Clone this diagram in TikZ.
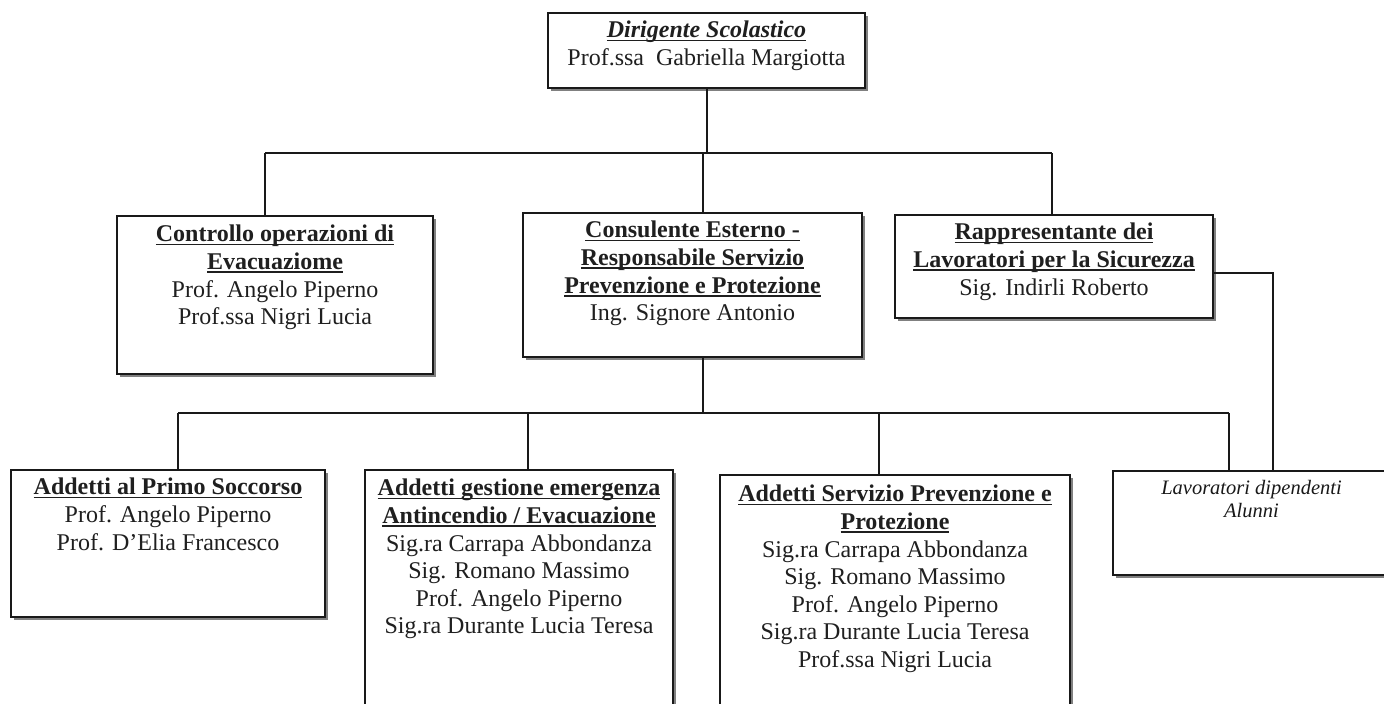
\documentclass[tikz,border=0pt]{standalone}
\usepackage{fontspec}
\setmainfont{Liberation Serif}
\usetikzlibrary{shadows}
\newsavebox\ulbox
\newcommand\ulx[1]{\sbox\ulbox{#1}\rlap{\rule[-3.5pt]{\wd\ulbox}{1.8pt}}\usebox\ulbox}
\tikzset{
  box/.style={draw=black!90, line width=2pt, fill=white, inner sep=0pt, outer sep=0pt,
    anchor=north west, drop shadow={shadow xshift=3pt, shadow yshift=-3pt, fill=black!50, opacity=1}},
  txt/.style={anchor=north, align=center, inner sep=0pt, font=\fontsize{24}{27.6}\selectfont, text=black!88},
  smalltxt/.style={anchor=north, align=center, inner sep=0pt, font=\fontsize{20.5}{23}\selectfont\itshape, text=black!90},
  conn/.style={line width=2pt, draw=black!90}
}
\begin{document}
\begin{tikzpicture}[x=1pt,y=-1pt]
\clip (0,0) rectangle (1384,704);
\fill[white] (0,0) rectangle (1384,704);
% bus coordinates
\coordinate (t1) at (265,153);
\coordinate (tc) at (703,153);
\coordinate (t2) at (1052,153);
\coordinate (b0) at (703,413);
\coordinate (b1) at (178,413);
\coordinate (b2) at (528,413);
\coordinate (b3) at (879,413);
\coordinate (b4) at (1229,413);
\coordinate (r1) at (1273,273);
% boxes
\node[box, minimum width=317pt, minimum height=75pt] (dir) at (548,13) {};
\node[box, minimum width=316pt, minimum height=158pt] (ctrl) at (117,216) {};
\node[box, minimum width=339pt, minimum height=144pt] (cons) at (523,213) {};
\node[box, minimum width=318pt, minimum height=103pt] (rapp) at (895,215) {};
\node[box, minimum width=314pt, minimum height=147pt] (primo) at (11,470) {};
\node[box, minimum width=308pt, minimum height=290pt] (gest) at (365,470) {};
\node[box, minimum width=350pt, minimum height=290pt] (serv) at (720,475) {};
\node[box, minimum width=277pt, minimum height=104pt] (lav) at (1113,471) {};
% connectors
\draw[conn] (dir.south) -- (dir.south |- t1);
\draw[conn] (t1) -- (t2);
\draw[conn] (t1) -- (t1 |- ctrl.north);
\draw[conn] (tc) -- (tc |- cons.north);
\draw[conn] (t2) -- (t2 |- rapp.north);
\draw[conn] (b0 |- cons.south) -- (b0);
\draw[conn] (b1) -- (b4);
\draw[conn] (b1) -- (b1 |- primo.north);
\draw[conn] (b2) -- (b2 |- gest.north);
\draw[conn] (b3) -- (b3 |- serv.north);
\draw[conn] (b4) -- (b4 |- lav.north);
\draw[conn] (rapp.east |- r1) -- (r1) -- (r1 |- lav.north);
% texts
\node[txt, yshift=-8pt] (dirT) at (dir.north) {\ulx{\textbf{\textit{Dirigente Scolastico}}}\\Prof.ssa\ \ Gabriella Margiotta};
\node[txt, yshift=-9pt] (ctrlT) at (ctrl.north) {\ulx{\textbf{Controllo operazioni di}}\\\ulx{\textbf{Evacuaziome}}\\Prof. Angelo Piperno\\Prof.ssa Nigri Lucia};
\node[txt, yshift=-8pt] (consT) at (cons.north) {\ulx{\textbf{Consulente Esterno -}}\\\ulx{\textbf{Responsabile Servizio}}\\\ulx{\textbf{Prevenzione e Protezione}}\\Ing. Signore Antonio};
\node[txt, yshift=-8pt] (rappT) at (rapp.north) {\ulx{\textbf{Rappresentante dei}}\\\ulx{\textbf{Lavoratori per la Sicurezza}}\\Sig. Indirli Roberto};
\node[txt, yshift=-8pt] (primoT) at (primo.north) {\ulx{\textbf{Addetti al Primo Soccorso}}\\Prof. Angelo Piperno\\Prof. D'Elia Francesco};
\node[txt, yshift=-9pt] (gestT) at (gest.north) {\ulx{\textbf{Addetti gestione emergenza}}\\\ulx{\textbf{Antincendio / Evacuazione}}\\Sig.ra Carrapa Abbondanza\\Sig. Romano Massimo\\Prof. Angelo Piperno\\Sig.ra Durante Lucia Teresa};
\node[txt, yshift=-10pt] (servT) at (serv.north) {\ulx{\textbf{Addetti Servizio Prevenzione e}}\\\ulx{\textbf{Protezione}}\\Sig.ra Carrapa Abbondanza\\Sig. Romano Massimo\\Prof. Angelo Piperno\\Sig.ra Durante Lucia Teresa\\Prof.ssa Nigri Lucia};
\node[smalltxt, yshift=-9pt] (lavT) at (lav.north) {Lavoratori dipendenti\\Alunni};
\end{tikzpicture}
\end{document}
